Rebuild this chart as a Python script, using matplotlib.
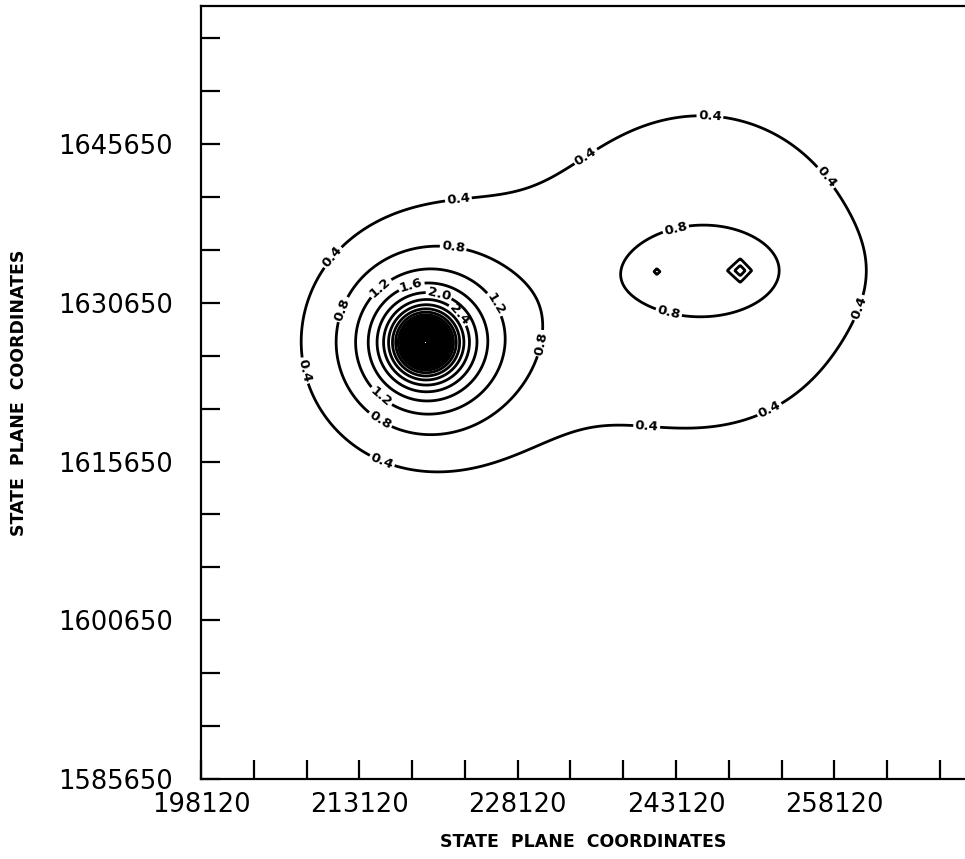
#import packages
import numpy as np
import matplotlib
matplotlib.use('Agg')
import matplotlib.pyplot as plt

stack_x = 219400
stack_y = 1626900
stack_q = 11.6 #concentration 1 km from the stack
stack_exp = 1.1 #near field fall-off
stack_decay = 14200 #far field taper (m)

#area source to the east: broad part and narrow elongated part
area_x = [245600, 246400]
area_y = [1633700, 1633700]
area_amp = [0.7, 0.3]
area_sx = [13800, 6800]
area_sy = [13800, 3300]

#two small hot spots inside the 0.8 contour of the area source
spot_x = [249200, 241300]
spot_y = [1633700, 1633600]
spot_amp = [0.8, 0.4]
spot_w = [1070, 480]

#axes
x_min, x_max = 198120, 270490
y_min, y_max = 1585650, 1658700
x_labels = [198120, 213120, 228120, 243120, 258120]
y_labels = [1585650, 1600650, 1615650, 1630650, 1645650]

#where the contour labels sit (data coords)
label_pos = [
	(210300, 1635200), (222400, 1641300), (234300, 1644900), (246300, 1647700),
	(257200, 1642400), (260400, 1630200), (252000, 1620500), (240300, 1618400),
	(215100, 1615300), (208200, 1624300), #0.4
	(222000, 1635800), (211600, 1630000), (229900, 1626900), (215100, 1619600),
	(243200, 1637200), (242500, 1630000), #0.8
	(215100, 1632100), (226100, 1630600), (215100, 1621700), #1.2
	(218100, 1632100), (220700, 1631600), (222500, 1629500), #1.6 2.0 2.4
]

#build the concentration grid
gx = np.linspace(x_min, x_max, 900)
gy = np.linspace(y_min, y_max, 900)
X, Y = np.meshgrid(gx, gy)
r = np.maximum(np.hypot(X - stack_x, Y - stack_y), 150)
Z = stack_q * (r / 1000.0) ** (-stack_exp) * np.exp(-(r / stack_decay) ** 2)
for ax0, ay0, a, sx, sy in zip(area_x, area_y, area_amp, area_sx, area_sy):
	Z += a * np.exp(-0.5 * (((X - ax0) / sx) ** 2 + ((Y - ay0) / sy) ** 2))
for px, py, a, w in zip(spot_x, spot_y, spot_amp, spot_w):
	Z += a * np.exp(-((np.abs(X - px) + np.abs(Y - py)) / w) ** 2)

levels = np.round(np.arange(1, 150) * 0.4, 1)

fig = plt.figure(figsize=(9.65, 8.59), dpi=100)
ax = fig.add_axes([201 / 965, 80 / 859, 764 / 965, 773 / 859])
cs = ax.contour(X, Y, Z, levels=levels, colors='k', linewidths=2.0)
txt = ax.clabel(cs, levels=levels[:6], manual=label_pos, inline=True, fmt='%.1f',
	fontsize=9.5, colors='k', inline_spacing=3)
for t in txt: t.set_fontweight('bold')

ax.set_xlim(x_min, x_max)
ax.set_ylim(y_min, y_max)
ax.set_xticks(x_labels)
ax.set_xticklabels([str(v) for v in x_labels])
ax.set_yticks(y_labels)
ax.set_yticklabels([str(v) for v in y_labels])
ax.set_xticks(np.arange(x_min, x_max, 5000), minor=True)
ax.set_yticks(np.arange(y_min, y_max, 5000), minor=True)
ax.tick_params(which='both', direction='in', length=14, width=1.6, top=False, right=False)
ax.tick_params(axis='x', which='major', labelsize=18.5, pad=9)
ax.tick_params(axis='y', which='major', labelsize=18.5, pad=20)
for s in ['left', 'bottom', 'top']: ax.spines[s].set_linewidth(1.6)
ax.spines['right'].set_visible(False)

ax.set_xlabel('STATE  PLANE  COORDINATES', fontsize=12.5, fontweight='bold')
ax.set_ylabel('STATE  PLANE  COORDINATES', fontsize=12.5, fontweight='bold')
ax.xaxis.set_label_coords(0.5, -0.070)
ax.yaxis.set_label_coords(-0.226, 0.5)

fig.savefig('out.png', dpi=100)
